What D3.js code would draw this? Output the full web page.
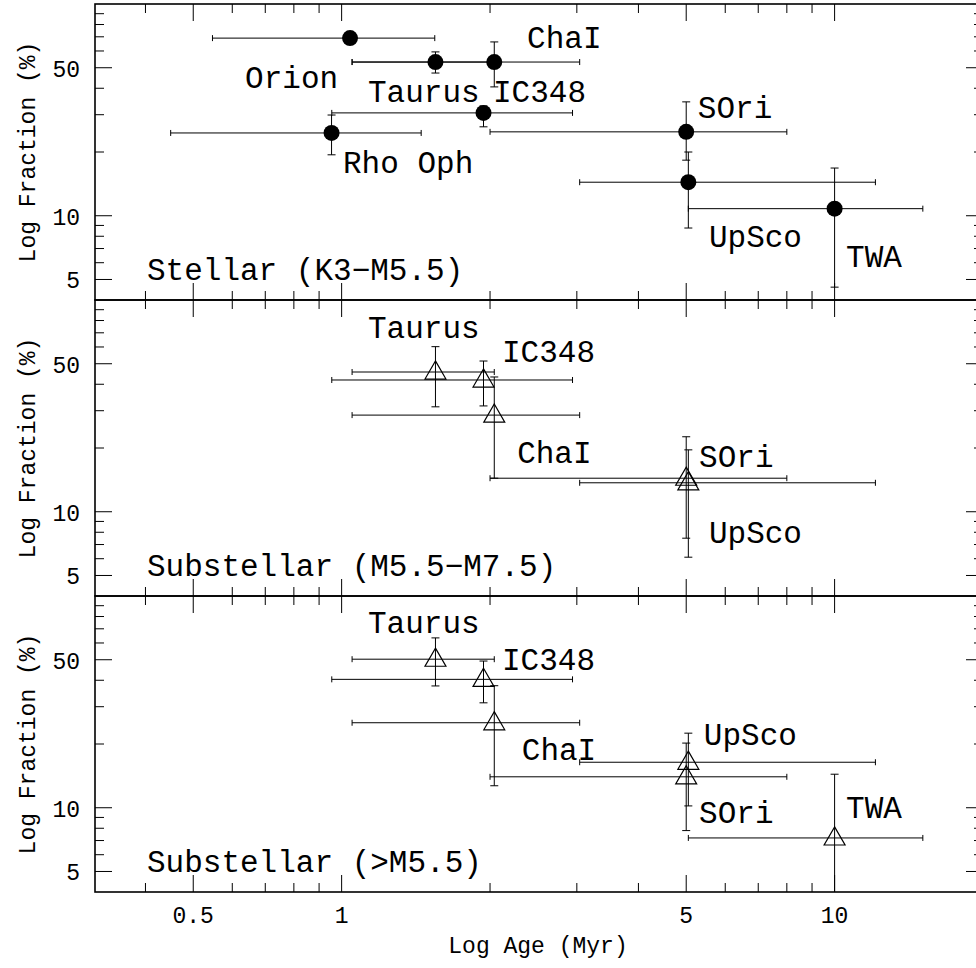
<!DOCTYPE html>
<html>
<head>
<meta charset="utf-8">
<script src="https://cdn.jsdelivr.net/npm/d3@7"></script>
<style>
  body { margin: 0; background: #fff; }
  svg text { font-family: "Liberation Mono", "DejaVu Sans Mono", monospace; fill: #000; }
</style>
</head>
<body>
<div id="chart"></div>
<script>

// clusters, shared age estimates (Myr)
const clusters = ['Orion', 'Taurus', 'ChaI', 'IC348', 'Rho Oph', 'SOri', 'UpSco', 'TWA'];
const age   = [1.04, 1.55, 2.04, 1.94, 0.954, 5.0, 5.05, 10.0];
const ageLo = [0.547, 1.05, 1.05, 0.955, 0.45, 2.0, 3.04, 5.05];
const ageHi = [1.545, 2.04, 3.04, 2.94, 1.45, 8.0, 12.1, 15.1];

// binary fraction (%) per panel, null = not plotted
const stellarFrac = [69.0, 53.2, 53.2, 30.6, 24.6, 24.9, 14.4, 10.8];
const stellarLo   = [65.0, 47.2, 40.6, 26.3, 19.4, 18.3, 8.75, 4.6];
const stellarHi   = [73.0, 59.4, 66.2, 33.0, 29.9, 34.5, 20.0, 16.8];

const midFrac = [null, 45.7, 28.6, 41.9, null, 14.4, 13.7, null];
const midLo   = [null, 31.3, 14.4, 31.6, null, 7.5, 6.1, null];
const midHi   = [null, 60.2, 43.3, 51.5, null, 22.6, 19.6, null];

const lateFrac = [null, 50.3, 25.2, 40.4, null, 14.0, 16.4, 7.2];
const lateLo   = [null, 37.6, 12.7, 31.3, null, 7.8, 10.2, 3.0];
const lateHi   = [null, 63.4, 37.7, 49.3, null, 20.2, 22.5, 14.4];

// label anchors in data units [age, fraction]
const stellarLabels = [
    ['Orion', 0.637, 40.1], ['Taurus', 1.131, 34.5], ['IC348', 2.028, 34.5],
    ['ChaI', 2.378, 62.0], ['Rho Oph', 1.0065, 15.9], ['SOri', 5.28, 28.9],
    ['UpSco', 5.56, 7.12], ['TWA', 10.55, 5.73]
];
const midLabels = [
    ['Taurus', 1.131, 66.2], ['IC348', 2.115, 50.9], ['ChaI', 2.27, 17.0],
    ['SOri', 5.31, 16.3], ['UpSco', 5.56, 7.12]
];
const lateLabels = [
    ['Taurus', 1.131, 67.0], ['IC348', 2.115, 44.8], ['ChaI', 2.32, 16.8],
    ['UpSco', 5.43, 19.8], ['SOri', 5.31, 8.47], ['TWA', 10.55, 8.94]
];

const panelTitles = ['Stellar (K3\u2212M5.5)', 'Substellar (M5.5\u2212M7.5)', 'Substellar (>M5.5)'];

const xMajor = [0.5, 1, 5, 10];
const xMinor = [0.4, 0.6, 0.7, 0.8, 0.9, 2, 3, 4, 6, 7, 8, 9, 20];
const yMajor = [5, 10, 50];
const yMinor = [6, 7, 8, 9, 20, 30, 40, 60, 70, 80, 90];

const panels = [
    { frac: stellarFrac, lo: stellarLo, hi: stellarHi, labels: stellarLabels, marker: 'circle' },
    { frac: midFrac, lo: midLo, hi: midHi, labels: midLabels, marker: 'triangle' },
    { frac: lateFrac, lo: lateLo, hi: lateHi, labels: lateLabels, marker: 'triangle' }
];

const width = 976, height = 968;
const left = 95, right = 983;
const panelTop = 4, panelH = 296;
const majorLen = 17, minorLen = 9;

const svg = d3.select('#chart').append('svg')
    .attr('width', width)
    .attr('height', height);

const x = d3.scaleLog().domain([0.316, 20]).range([left, right]);

panels.forEach((p, i) => {
    const top = panelTop + i * panelH;
    const bottom = top + panelH;
    const y = d3.scaleLog().domain([4, 100]).range([bottom, top]);

    const g = svg.append('g');
    const clipId = 'clip' + i;
    svg.append('clipPath').attr('id', clipId)
        .append('rect')
        .attr('x', left).attr('y', top)
        .attr('width', right - left).attr('height', panelH);

    // ticks on all four sides, pointing inward
    const tickGroup = g.append('g').attr('stroke', '#000').attr('stroke-width', 1);
    const xt = [...xMajor.map(v => [v, majorLen]), ...xMinor.map(v => [v, minorLen])];
    xt.forEach(([v, len]) => {
        tickGroup.append('line')
            .attr('x1', x(v)).attr('x2', x(v))
            .attr('y1', bottom).attr('y2', bottom - len);
        tickGroup.append('line')
            .attr('x1', x(v)).attr('x2', x(v))
            .attr('y1', top).attr('y2', top + len);
    });
    const yt = [...yMajor.map(v => [v, majorLen]), ...yMinor.map(v => [v, minorLen])];
    yt.forEach(([v, len]) => {
        tickGroup.append('line')
            .attr('x1', left).attr('x2', left + len)
            .attr('y1', y(v)).attr('y2', y(v));
        tickGroup.append('line')
            .attr('x1', right).attr('x2', right - len)
            .attr('y1', y(v)).attr('y2', y(v));
    });

    // frame
    g.append('rect')
        .attr('x', left).attr('y', top)
        .attr('width', right - left).attr('height', panelH)
        .attr('fill', 'none')
        .attr('stroke', '#000')
        .attr('stroke-width', 1.6);

    // y tick labels
    g.selectAll('text.ylab')
        .data(yMajor)
        .enter()
        .append('text')
            .attr('x', 80)
            .attr('y', d => y(d) + 9)
            .attr('text-anchor', 'end')
            .attr('font-size', '23px')
            .text(d => d);

    // y axis title
    g.append('text')
        .attr('transform', `translate(35,${top + panelH / 2}) rotate(-90)`)
        .attr('text-anchor', 'middle')
        .attr('font-size', '23px')
        .text('Log Fraction (%)');

    // data
    const pts = clusters.map((name, k) => ({
        name, age: age[k], ageLo: ageLo[k], ageHi: ageHi[k],
        f: p.frac[k], lo: p.lo[k], hi: p.hi[k]
    })).filter(d => d.f !== null);

    const data = g.append('g').attr('clip-path', `url(#${clipId})`);
    const bars = data.append('g').attr('stroke', '#000').attr('stroke-width', 1).attr('fill', 'none');
    pts.forEach(d => {
        const cy = y(d.f), cx = x(d.age);
        // horizontal
        bars.append('line').attr('x1', x(d.ageLo)).attr('x2', x(d.ageHi)).attr('y1', cy).attr('y2', cy);
        bars.append('line').attr('x1', x(d.ageLo)).attr('x2', x(d.ageLo)).attr('y1', cy - 3).attr('y2', cy + 3);
        bars.append('line').attr('x1', x(d.ageHi)).attr('x2', x(d.ageHi)).attr('y1', cy - 3).attr('y2', cy + 3);
        // vertical
        bars.append('line').attr('x1', cx).attr('x2', cx).attr('y1', y(d.lo)).attr('y2', y(d.hi));
        bars.append('line').attr('x1', cx - 4).attr('x2', cx + 4).attr('y1', y(d.lo)).attr('y2', y(d.lo));
        bars.append('line').attr('x1', cx - 4).attr('x2', cx + 4).attr('y1', y(d.hi)).attr('y2', y(d.hi));
    });

    if (p.marker === 'circle') {
        data.selectAll('circle')
            .data(pts)
            .enter()
            .append('circle')
                .attr('cx', d => x(d.age))
                .attr('cy', d => y(d.f))
                .attr('r', 8)
                .attr('fill', '#000');
    } else {
        const tri = d3.symbol().type(d3.symbolTriangle).size(190);
        data.selectAll('path.tri')
            .data(pts)
            .enter()
            .append('path')
                .attr('d', tri)
                .attr('transform', d => `translate(${x(d.age)},${y(d.f) + 1})`)
                .attr('fill', 'none')
                .attr('stroke', '#000')
                .attr('stroke-width', 1.2);
    }

    // cluster labels
    g.selectAll('text.cl')
        .data(p.labels)
        .enter()
        .append('text')
            .attr('x', d => x(d[1]))
            .attr('y', d => y(d[2]))
            .attr('font-size', '31px')
            .text(d => d[0]);

    // panel title
    g.append('text')
        .attr('x', 147)
        .attr('y', bottom - 20)
        .attr('font-size', '31px')
        .text(panelTitles[i]);

    // x tick labels under the last panel
    if (i === panels.length - 1) {
        g.selectAll('text.xlab')
            .data(xMajor)
            .enter()
            .append('text')
                .attr('x', d => x(d))
                .attr('y', bottom + 31)
                .attr('text-anchor', 'middle')
                .attr('font-size', '23px')
                .text(d => d);

        g.append('text')
            .attr('x', 538)
            .attr('y', bottom + 61)
            .attr('text-anchor', 'middle')
            .attr('font-size', '23px')
            .text('Log Age (Myr)');
    }
});

</script>
</body>
</html>
